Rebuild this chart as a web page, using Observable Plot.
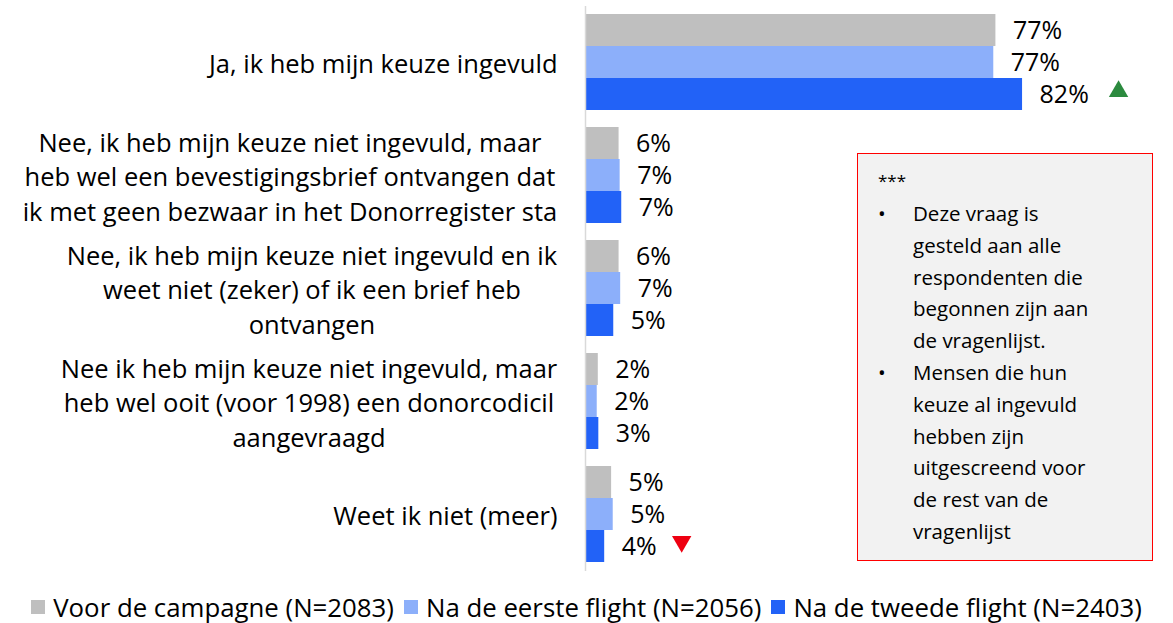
<!DOCTYPE html>
<html>
<head>
<meta charset="utf-8">
<script src="https://cdn.jsdelivr.net/npm/d3@7"></script>
<script src="https://cdn.jsdelivr.net/npm/@observablehq/plot@0.6"></script>
<style>
  html, body { margin: 0; padding: 0; background: #fff; }
  body { width: 1173px; height: 623px; position: relative; overflow: hidden; font-family: 'Open Sans', sans-serif; }
  #chart svg { display: block; }
  #legend { position: absolute; left: 0; top: 589px; width: 1173px; display: flex; justify-content: center; align-items: center; font-size: 25.8px; color: #000; white-space: nowrap; }
  #legend .item { display: flex; align-items: center; margin: 0 5px; }
  #legend .sw { width: 14px; height: 14px; margin-right: 8px; }
  #note { position: absolute; left: 857px; top: 153px; width: 294px; height: 406px; background: #f2f2f2; border: 1.5px solid #ff0000; font-size: 20.5px; line-height: 31.8px; color: #000; box-sizing: content-box; }
  #note .stars { position: absolute; left: 20px; top: 11px; font-size: 17px; }
  #note ul { list-style: none; margin: 0; padding: 0; position: absolute; left: 0; top: 44px; width: 294px; }
  #note li { position: relative; padding-left: 55px; padding-right: 0; white-space: nowrap; }
  #note li::before { content: "•"; position: absolute; left: 20px; }
</style>
</head>
<body>
<div id="chart"></div>
<div id="note"></div>
<div id="legend"></div>
<script>
const categories = [
  "Ja, ik heb mijn keuze ingevuld",
  "Nee, ik heb mijn keuze niet ingevuld, maar\nheb wel een bevestigingsbrief ontvangen dat\nik met geen bezwaar in het Donorregister sta",
  "Nee, ik heb mijn keuze niet ingevuld en ik\nweet niet (zeker) of ik een brief heb\nontvangen",
  "Nee ik heb mijn keuze niet ingevuld, maar\nheb wel ooit (voor 1998) een donorcodicil\naangevraagd",
  "Weet ik niet (meer)"
];
const series = ["Voor de campagne (N=2083)", "Na de eerste flight (N=2056)", "Na de tweede flight (N=2403)"];
const voorCampagne = [77, 6.3, 6.3, 2.4, 4.9];
const naEersteFlight = [76.6, 6.5, 6.6, 2.2, 5.2];
const naTweedeFlight = [82, 6.8, 5.3, 2.5, 3.6];
const colors = ["#bfbfbf", "#8caffa", "#2262f7"];
// significance markers: [category index, series index]
const sigUp = [[0, 2]];
const sigDown = [[4, 2]];
const noteStars = "***";
const noteBullets = [
  ["Deze vraag is", "gesteld aan alle", "respondenten die", "begonnen zijn aan", "de vragenlijst."],
  ["Mensen die hun", "keuze al ingevuld", "hebben zijn", "uitgescreend voor", "de rest van de", "vragenlijst"]
];

const seriesValues = [voorCampagne, naEersteFlight, naTweedeFlight];
const data = [];
categories.forEach((c, i) => series.forEach((s, j) => data.push({cat: c, series: s, value: seriesValues[j][i]})));
const upData = sigUp.map(([i, j]) => ({cat: categories[i], series: series[j], value: seriesValues[j][i]}));
const downData = sigDown.map(([i, j]) => ({cat: categories[i], series: series[j], value: seriesValues[j][i]}));

const chart = Plot.plot({
  width: 1173,
  height: 588,
  marginLeft: 585,
  marginRight: 55,
  marginTop: 11,
  marginBottom: 25,
  style: {fontFamily: "'Open Sans', sans-serif", fontSize: "25px", background: "white", color: "#000"},
  x: {domain: [0, 100], axis: null},
  y: {domain: series, axis: null, paddingInner: 0, paddingOuter: 0},
  fy: {domain: categories, axis: null, paddingInner: 0.143, paddingOuter: 0},
  color: {domain: series, range: colors},
  marks: [
    Plot.barX(data, {fy: "cat", y: "series", x: "value", fill: "series"}),
    Plot.ruleX([0], {stroke: "#d9d9d9", strokeWidth: 1.5, insetTop: -7, insetBottom: -9}),
    Plot.text(data, {fy: "cat", y: "series", x: "value", text: d => Math.round(d.value) + "%", textAnchor: "start", dx: 17, fontSize: 25, fill: "#000"}),
    Plot.text(categories, {fy: d => d, text: d => d, frameAnchor: "left", textAnchor: "end", dx: -28, fontSize: 25.5, lineHeight: 1.353, fill: "#000"}),
    Plot.dot(upData, {fy: "cat", y: "series", x: "value", symbol: "triangle", r: 7.2, fill: "#2b8a3e", dx: 96, dy: -3}),
    Plot.dot(downData, {fy: "cat", y: "series", x: "value", symbol: "triangle", rotate: 180, r: 7.2, fill: "#ee0011", dx: 77, dy: -5})
  ]
});
document.getElementById("chart").appendChild(chart);

// center the lines of each multi-line category label within its right-aligned block
const catSet = new Set(categories.map(c => c.replace(/\n/g, "")));
function alignLabels() {
  chart.querySelectorAll("text").forEach(t => {
    if (!catSet.has(t.textContent)) return;
    const tspans = t.querySelectorAll("tspan");
    if (tspans.length < 2) return;
    t.style.textAnchor = "end";
    tspans.forEach(ts => ts.setAttribute("x", 0));
    const w = t.getBBox().width;
    t.style.textAnchor = "middle";
    tspans.forEach(ts => ts.setAttribute("x", -w / 2));
  });
}
alignLabels();
if (document.fonts && document.fonts.ready) document.fonts.ready.then(alignLabels);

// note box
const note = document.getElementById("note");
const stars = document.createElement("div");
stars.className = "stars";
stars.textContent = noteStars;
note.appendChild(stars);
const ul = document.createElement("ul");
noteBullets.forEach(lines => {
  const li = document.createElement("li");
  lines.forEach((l, k) => {
    if (k > 0) li.appendChild(document.createElement("br"));
    li.appendChild(document.createTextNode(l));
  });
  ul.appendChild(li);
});
note.appendChild(ul);

// legend
const legend = document.getElementById("legend");
series.forEach((s, j) => {
  const item = document.createElement("div");
  item.className = "item";
  const sw = document.createElement("div");
  sw.className = "sw";
  sw.style.background = colors[j];
  const lab = document.createElement("span");
  lab.textContent = s;
  item.appendChild(sw);
  item.appendChild(lab);
  legend.appendChild(item);
});
</script>
</body>
</html>
